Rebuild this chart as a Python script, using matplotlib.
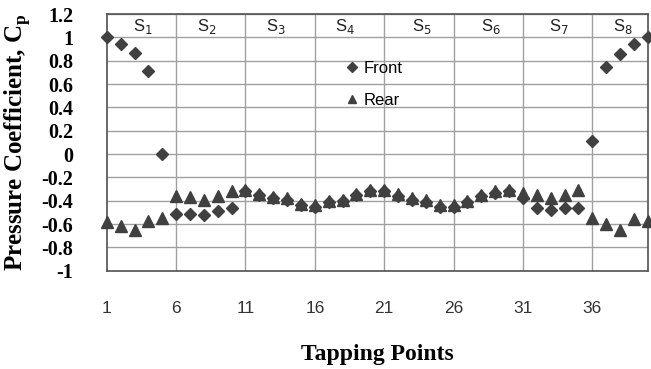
import numpy as np
import matplotlib.pyplot as plt

puntos = np.arange(1, 41)
front = [1.0, 0.94, 0.87, 0.71, 0.0,
         -0.51, -0.51, -0.52, -0.49, -0.46,
         -0.32, -0.35, -0.38, -0.39, -0.44, -0.45, -0.41, -0.40, -0.35, -0.32,
         -0.32, -0.36, -0.39, -0.41, -0.45, -0.45, -0.41, -0.36, -0.33, -0.32,
         -0.38, -0.46, -0.48, -0.46, -0.46,
         0.11, 0.75, 0.86, 0.94, 1.0]
rear = [-0.58, -0.62, -0.65, -0.57, -0.55,
        -0.36, -0.37, -0.39, -0.36, -0.32,
        -0.31, -0.34, -0.37, -0.38, -0.43, -0.44, -0.40, -0.39, -0.34, -0.31,
        -0.31, -0.34, -0.38, -0.39, -0.44, -0.44, -0.40, -0.35, -0.32, -0.31,
        -0.33, -0.35, -0.38, -0.35, -0.31,
        -0.55, -0.60, -0.65, -0.56, -0.57]
secciones = ["S$_1$", "S$_2$", "S$_3$", "S$_4$", "S$_5$", "S$_6$", "S$_7$", "S$_8$"]
pos_secciones = [3.6, 8.2, 13.2, 18.2, 23.7, 28.7, 33.6, 38.2]
xticks = [1, 6, 11, 16, 21, 26, 31, 36]

gris = '#404040'

fig = plt.figure(figsize=(6.51, 3.69), dpi=100)
ax = fig.add_axes([0.164, 0.266, 0.831, 0.696])

ax.set_xlim(1, 40)
ax.set_ylim(-1, 1.2)
ax.set_yticks(np.round(np.arange(-1, 1.21, 0.2), 1))
ax.set_yticklabels(['-1', '-0.8', '-0.6', '-0.4', '-0.2', '0', '0.2', '0.4',
                    '0.6', '0.8', '1', '1.2'],
                   fontfamily='Liberation Serif', fontweight='bold', fontsize=14.5)
ax.set_xticks(xticks)
ax.set_xticklabels([str(t) for t in xticks], fontfamily='Liberation Sans',
                   fontsize=12.5, color='#333333')
ax.tick_params(axis='x', length=0, pad=22)
ax.tick_params(axis='y', length=0, pad=24)

for t in xticks[1:]:
    ax.axvline(t, color='#a0a0a0', lw=1, zorder=0)
for v in np.arange(-0.8, 1.21, 0.2):
    ax.axhline(v, color='#a0a0a0', lw=1, zorder=0)

for s in ax.spines.values():
    s.set_color('#505050')
    s.set_linewidth(1.2)

ax.plot(puntos, front, 'D', color=gris, ms=6, label='Front', clip_on=False, zorder=3)
ax.plot(puntos, rear, '^', color=gris, ms=8, label='Rear', clip_on=False, zorder=3)

for lab, xp in zip(secciones, pos_secciones):
    ax.text(xp, 1.175, lab, ha='center', va='top', fontsize=12,
            fontfamily='Liberation Sans', color='#222222')

ax.legend(loc='upper left', bbox_to_anchor=(0.41, 0.875), frameon=False,
          prop={'family': 'Liberation Sans', 'size': 12},
          handletextpad=0.2, labelspacing=1.0, markerscale=0.8, handlelength=1)

ax.set_xlabel('Tapping Points', fontfamily='Liberation Serif', fontweight='bold',
              fontsize=17, labelpad=20)
ax.set_ylabel('Pressure Coefficient, C$_\\mathregular{p}$', fontfamily='Liberation Serif',
              fontweight='bold', fontsize=18, labelpad=6)

fig.savefig('out.png', dpi=100)
